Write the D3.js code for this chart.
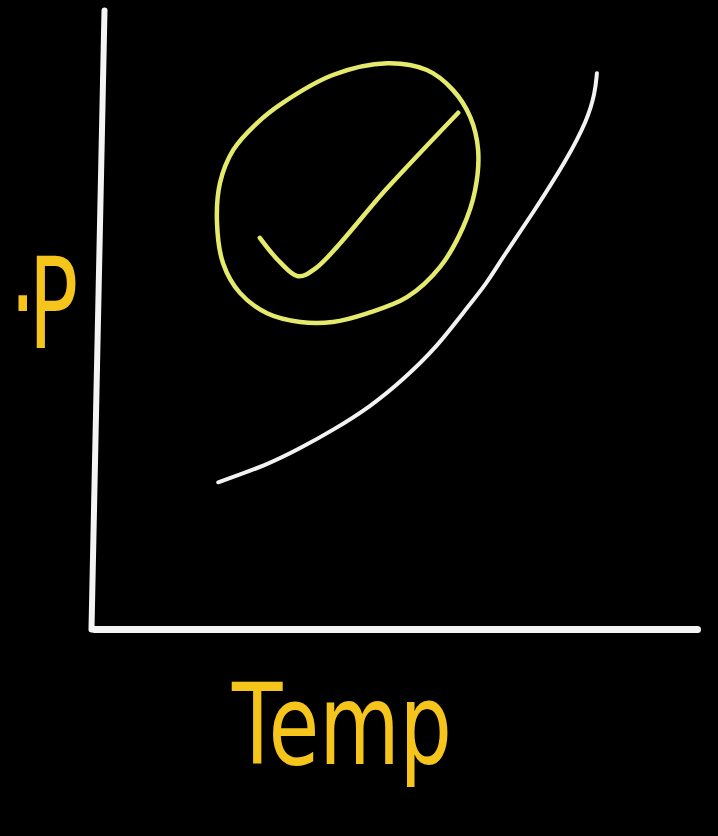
<!DOCTYPE html>
<html>
<head>
<meta charset="utf-8">
<script src="https://cdn.jsdelivr.net/npm/d3@7"></script>
<style>
  html, body { margin: 0; padding: 0; background: #000; }
  svg { display: block; }
</style>
</head>
<body>
<svg id="chart" width="718" height="836"></svg>
<script>
// Vapour pressure vs temperature sketch (arbitrary 0–100 units on both axes)
const curveTemp     = [20.6, 28.7, 34.2, 39.6, 45.8, 51.2, 56.9, 61.2, 65.2, 67.8, 72.8, 78.4, 81.8, 83.1, 83.4];
const curvePressure = [23.7, 26.5, 29.2, 32.1, 35.9, 40.2, 45.6, 51.1, 55.9, 60.1, 67.2, 75.8, 82.2, 86.6, 89.8];

// Circled region above the curve
const ringTemp     = [31.3, 39.6, 48.6, 55.2, 59.5, 62.4, 63.7, 63.2, 61.2, 57.4, 51.9, 45.3, 39.6, 34.2, 28.7, 24.2, 21.4, 20.4, 20.9, 23.1, 27.0];
const ringPressure = [85.0, 89.5, 91.4, 90.3, 87.1, 82.7, 77.4, 70.9, 64.9, 58.5, 53.6, 51.0, 49.6, 49.6, 51.0, 54.3, 59.1, 65.6, 72.1, 77.4, 81.7];

// Tick mark inside the circle
const tickTemp     = [27.5, 30.8, 33.8, 36.8, 48.6, 60.4];
const tickPressure = [63.2, 59.3, 57.0, 58.3, 71.2, 83.4];

const xLabel = "Temp";
const yLabelParts = ["V", ".", "P"];

const svg = d3.select("#chart");
const W = 718, H = 836;

svg.append("rect").attr("width", W).attr("height", H).attr("fill", "#000");

const x = d3.scaleLinear().domain([0, 100]).range([94, 697]);
const y = d3.scaleLinear().domain([0, 100]).range([629, 10]);

// x axis: bare domain line
const xAxisG = svg.append("g")
  .attr("transform", `translate(0,${y(0)})`)
  .call(d3.axisBottom(x).tickValues([]).tickSizeOuter(0));
xAxisG.select(".domain")
  .attr("stroke", "#f4f4f4").attr("stroke-width", 7).attr("stroke-linecap", "round");

// y axis: bare domain line, leaning slightly like a freehand stroke
const lean = -13 / (y(0) - y(100));
const yAxisG = svg.append("g")
  .attr("transform", `translate(${x(0) - 3 - lean * y(0)},0) skewX(${Math.atan(lean) * 180 / Math.PI})`)
  .call(d3.axisLeft(y).tickValues([]).tickSizeOuter(0));
yAxisG.select(".domain")
  .attr("stroke", "#f4f4f4").attr("stroke-width", 6).attr("stroke-linecap", "round");

// vapour-pressure curve (B-spline smooths the freehand stroke)
const line = d3.line()
  .x(i => x(curveTemp[i]))
  .y(i => y(curvePressure[i]))
  .curve(d3.curveBasis);
svg.append("path")
  .attr("d", line(d3.range(curveTemp.length)))
  .attr("fill", "none").attr("stroke", "#f2f2f2").attr("stroke-width", 4)
  .attr("stroke-linecap", "round");

// ring
const ring = d3.line()
  .x(i => x(ringTemp[i]))
  .y(i => y(ringPressure[i]))
  .curve(d3.curveCatmullRomClosed.alpha(0.5));
svg.append("path")
  .attr("d", ring(d3.range(ringTemp.length)))
  .attr("fill", "none").attr("stroke", "#e6ea6c").attr("stroke-width", 4.5);

// tick
const tick = d3.line()
  .x(i => x(tickTemp[i]))
  .y(i => y(tickPressure[i]))
  .curve(d3.curveCatmullRom.alpha(0.5));
svg.append("path")
  .attr("d", tick(d3.range(tickTemp.length)))
  .attr("fill", "none").attr("stroke", "#e6ea6c").attr("stroke-width", 4.5)
  .attr("stroke-linecap", "round").attr("stroke-linejoin", "round");

// x axis title
svg.append("text")
  .attr("x", 232).attr("y", 764)
  .attr("font-family", "'DejaVu Sans', sans-serif")
  .attr("font-size", 112)
  .attr("textLength", 220).attr("lengthAdjust", "spacingAndGlyphs")
  .attr("fill", "#f6c51c")
  .text(xLabel);

// y axis title, tall and narrow, running off the left edge
const sx = 0.82, sy = 1.27;
const yTitle = svg.append("text")
  .attr("transform", `scale(${sx},${sy})`)
  .attr("font-family", "'DejaVu Sans', sans-serif")
  .attr("font-size", 100)
  .attr("fill", "#f6c51c");
yTitle.append("tspan").attr("x", -75).attr("y", 348 / sy).text(yLabelParts[0]);
yTitle.append("tspan").attr("x", 12).attr("dy", -29).text(yLabelParts[1]);
yTitle.append("tspan").attr("x", 35).attr("dy", 29).text(yLabelParts[2]);
</script>
</body>
</html>
